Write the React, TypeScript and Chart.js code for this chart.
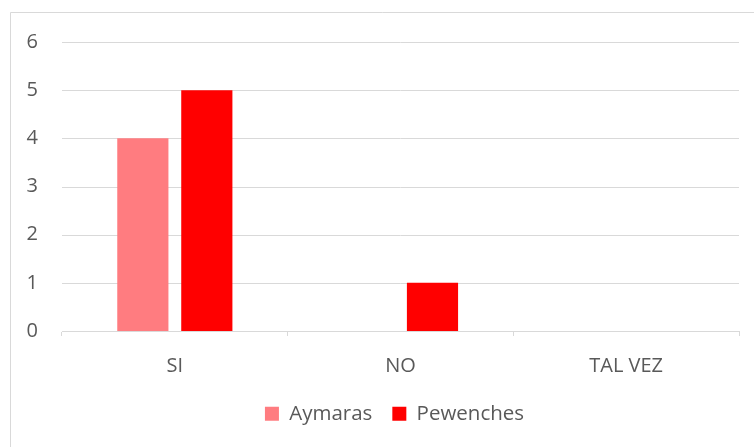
import React, { useEffect, useRef } from "react";
import { Chart, registerables } from "chart.js";

Chart.register(...registerables);

const categories = ["SI", "NO", "TAL VEZ"];
const aymaras = [4, 0, 0];
const pewenches = [5, 1, 0];
const yTicks = [0, 1, 2, 3, 4, 5, 6];

const FONT = "'Open Sans', sans-serif";
const TEXT = "#595959";
const GRID = "#d9d9d9";

const framePlugin = {
  id: "frame",
  beforeDraw(chart: any) {
    const ctx = chart.ctx;
    ctx.save();
    ctx.fillStyle = "#ffffff";
    ctx.fillRect(0, 0, chart.width, chart.height);
    ctx.strokeStyle = GRID;
    ctx.lineWidth = 1;
    ctx.beginPath();
    ctx.moveTo(10.5, chart.height);
    ctx.lineTo(10.5, 12.5);
    ctx.lineTo(chart.width, 12.5);
    ctx.stroke();
    ctx.restore();
  },
  beforeDatasetsDraw(chart: any) {
    const ctx = chart.ctx;
    const a = chart.chartArea;
    const y = chart.scales.y;
    ctx.save();
    ctx.strokeStyle = GRID;
    ctx.lineWidth = 1;
    ctx.beginPath();
    for (const v of yTicks) {
      const py = Math.round(y.getPixelForValue(v)) + 0.5;
      ctx.moveTo(a.left, py);
      ctx.lineTo(a.right, py);
    }
    ctx.stroke();
    ctx.restore();
  },
};

const legendShiftPlugin = {
  id: "legendShift",
  afterLayout(chart: any) {
    if (chart.legend) {
      chart.legend.left += 25;
      chart.legend.right += 25;
    }
  },
};

export default function App() {
  const ref = useRef<HTMLCanvasElement | null>(null);
  useEffect(() => {
    if (!ref.current) return;
    const chart = new Chart(ref.current, {
      type: "bar",
      data: {
        labels: categories,
        datasets: [
          { label: "Aymaras", data: aymaras, backgroundColor: "#FF7C80", categoryPercentage: 0.567, barPercentage: 0.8 },
          { label: "Pewenches", data: pewenches, backgroundColor: "#FF0000", categoryPercentage: 0.567, barPercentage: 0.8 },
        ],
      },
      options: {
        responsive: false,
        animation: false,
        layout: { padding: { left: 0, right: 15, top: 42, bottom: 13 } },
        plugins: {
          tooltip: { enabled: false },
          legend: {
            position: "bottom",
            labels: {
              font: { family: FONT, size: 20.5 },
              color: TEXT,
              boxWidth: 14,
              boxHeight: 14,
              padding: 20,
            },
          },
        },
        scales: {
          x: {
            grid: { drawOnChartArea: false, drawTicks: true, tickLength: 5, color: GRID, offset: true },
            border: { color: GRID },
            ticks: { font: { family: FONT, size: 20 }, color: TEXT, padding: 18 },
            afterFit: (s: any) => { s.height = 52.5; },
          },
          y: {
            min: 0,
            max: 6,
            afterBuildTicks: (s: any) => { s.ticks = yTicks.map((v) => ({ value: v })); },
            grid: { display: false, drawTicks: false },
            border: { display: false },
            ticks: { font: { family: FONT, size: 20 }, color: TEXT, padding: 24, stepSize: 1 },
            afterFit: (s: any) => { s.width = 62; },
          },
        },
      },
      plugins: [framePlugin, legendShiftPlugin],
    });
    return () => chart.destroy();
  }, []);
  return (
    <div style={{ position: "absolute", left: 0, top: 0, width: 754, height: 447 }}>
      <canvas ref={ref} width={754} height={447} style={{ width: 754, height: 447, display: "block" }} />
    </div>
  );
}
